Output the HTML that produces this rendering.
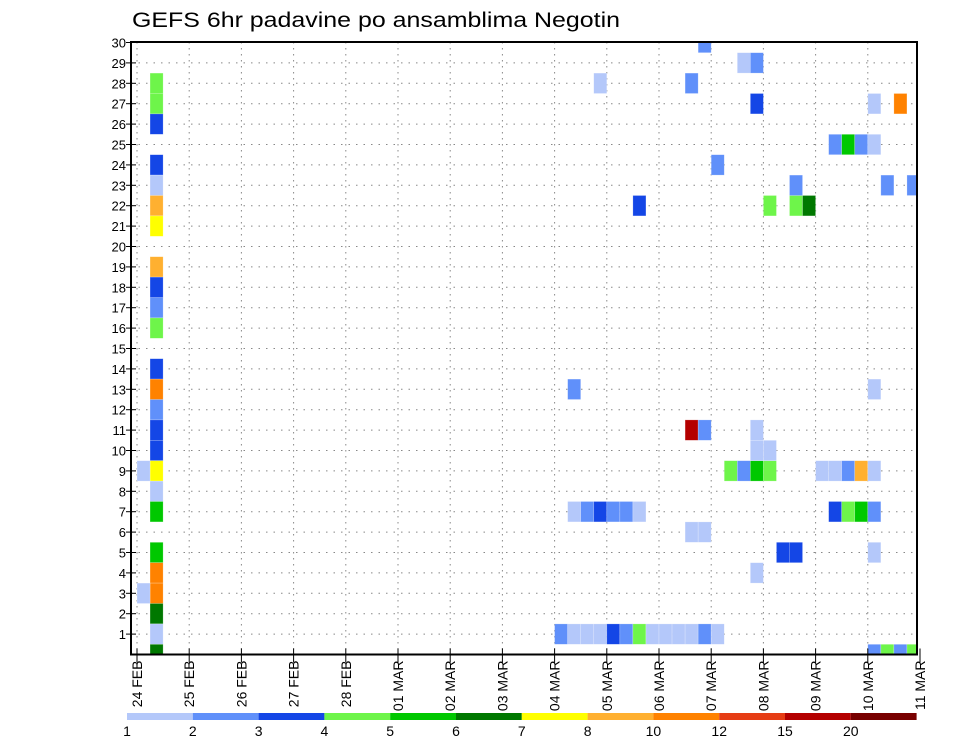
<!DOCTYPE html>
<html><head><meta charset="utf-8"><style>
html,body{margin:0;padding:0;background:#fff;}
svg{display:block;font-family:"Liberation Sans",sans-serif;}
</style></head><body>
<svg id="chart" width="960" height="742" viewBox="0 0 960 742" xmlns="http://www.w3.org/2000/svg">
<text x="132" y="27" font-size="21" textLength="488" lengthAdjust="spacingAndGlyphs" fill="#000">GEFS 6hr padavine po ansamblima Negotin</text>
<g id="grid"></g>
<g id="cells"></g>
<g id="axes"></g>
<g id="cbar"></g>
</svg>
<script>
// data
const dayLabels = ["24 FEB","25 FEB","26 FEB","27 FEB","28 FEB","01 MAR","02 MAR","03 MAR","04 MAR","05 MAR","06 MAR","07 MAR","08 MAR","09 MAR","10 MAR","11 MAR"];
const memberTicks = [1,2,3,4,5,6,7,8,9,10,11,12,13,14,15,16,17,18,19,20,21,22,23,24,25,26,27,28,29,30];
const levelLabels = ["1","2","3","4","5","6","7","8","10","12","15","20"];
const levelBounds = [1,2,3,4,5,6,7,8,10,12,15,20];
const levelColors = ["#b4c8fa","#6090fa","#1446e6","#6ef54a","#00c800","#007800","#ffff00","#ffb030","#ff8200","#e63c14","#b40000","#780000"];
// cells: 6h step index from 24 FEB 00Z, ensemble member, precip (mm)
const cellStep = [1,1,1,1,1,1,1,1,1,1,1,1,1,1,1,1,1,1,1,1,1,1,1,1,1,0,0,
 32,33,34,35,36,37,38,39,40,41,42,43,44,
 56,57,58,59, 56,49,50, 47, 42,43,
 33,34,35,36,37,38,53,54,55,56,
 45,46,47,48,52,53,54,55,56,
 47,48, 47,42,43, 33,56,
 38,48,50,51, 50,57,59, 44, 53,54,55,56, 47,56,58, 35,42, 46,47, 43];
const cellMember = [28,27,26,24,23,22,21,19,18,17,16,14,13,12,11,10,9,8,7,5,4,3,2,1,0,9,3,
 1,1,1,1,1,1,1,1,1,1,1,1,1,
 0,0,0,0, 5,5,5, 4, 6,6,
 7,7,7,7,7,7,7,7,7,7,
 9,9,9,9,9,9,9,9,9,
 10,10, 11,11,11, 13,13,
 22,22,22,22, 23,23,23, 24, 25,25,25,25, 27,27,27, 28,28, 29,29, 30];
const cellValue = [4.5,4.5,3.5,3.5,1.5,9,7.5,9,3.5,2.5,4.5,3.5,11,2.5,3.5,3.5,7.5,1.5,5.5,5.5,11,11,6.5,1.5,6.5,1.5,1.5,
 2.5,1.5,1.5,1.5,3.5,2.5,4.5,1.5,1.5,1.5,1.5,2.5,1.5,
 2.5,4.5,2.5,4.5, 1.5,3.5,3.5, 1.5, 1.5,1.5,
 1.5,2.5,3.5,2.5,2.5,1.5,3.5,4.5,5.5,2.5,
 4.5,2.5,5.5,4.5,1.5,1.5,2.5,9,1.5,
 1.5,1.5, 1.5,17,2.5, 2.5,1.5,
 3.5,4.5,4.5,6.5, 2.5,2.5,2.5, 2.5, 2.5,5.5,2.5,1.5, 3.5,1.5,11, 1.5,2.5, 1.5,2.5, 2.5];

const NS="http://www.w3.org/2000/svg";
const PL=131, PR=917, PT=42, PB=654.5;
const X0=137, DAY=52.2, STEP=DAY/4, ROW=20.4;
const xDay = d => X0 + d*DAY;
const xStep = t => X0 + t*STEP;
const yMem = m => PB - m*ROW;
function colorFor(v){let c=0;for(let i=0;i<levelBounds.length;i++){if(v>=levelBounds[i])c=i;}return levelColors[c];}
function mk(tag,attrs,parent){const e=document.createElementNS(NS,tag);for(const k in attrs)e.setAttribute(k,attrs[k]);parent.appendChild(e);return e;}

const grid=document.getElementById('grid');
memberTicks.forEach(m=>{
  const l=mk('line',{x1:PL,x2:PR,y1:yMem(m),y2:yMem(m),stroke:'#888','stroke-width':1,'stroke-dasharray':'1.5 6'},grid);
  
  
});
dayLabels.forEach((d,i)=>{
  const x=xDay(i); if(x>PR) return;
  const l=mk('line',{x1:x,x2:x,y1:PT,y2:PB,stroke:'#888','stroke-width':1,'stroke-dasharray':'1.5 4.5'},grid);
  
  
});

const cells=document.getElementById('cells');
for(let i=0;i<cellStep.length;i++){
  let x=xStep(cellStep[i]), w=STEP;
  if(x+w>PR) w=PR-x;
  let y=yMem(cellMember[i])-ROW/2, h=ROW;
  if(y<PT){h-=PT-y;y=PT;}
  if(y+h>PB) h=PB-y;
  const r=mk('rect',{x:x,y:y,width:w,height:h,fill:colorFor(cellValue[i]),stroke:'#fff','stroke-opacity':0.35,'stroke-width':0.6},cells);
  
  
}

const axes=document.getElementById('axes');
const fr=mk('rect',{x:PL,y:PT,width:PR-PL,height:PB-PT,fill:'none',stroke:'#000','stroke-width':2},axes);


memberTicks.forEach(m=>{
  const y=yMem(m);
  mk('line',{x1:PL-5,x2:PL+5,y1:y,y2:y,stroke:'#000','stroke-width':1},axes);
  const t=mk('text',{x:PL-5,y:y+5,'font-size':13,'text-anchor':'end',fill:'#000'},axes);
  t.textContent=m;
  
  
});
dayLabels.forEach((d,i)=>{
  const x=xDay(i);
  if(x<=PR+4) mk('line',{x1:x,x2:x,y1:PB-6,y2:PB+8,stroke:'#000','stroke-width':1},axes);
  const t=mk('text',{x:0,y:0,'font-size':14,'text-anchor':'end',fill:'#000',transform:`translate(${x+5},${PB+6}) rotate(-90)`},axes);
  t.textContent=d;
  
  
});

const cb=document.getElementById('cbar');
const CB0=127, CBW=65.8;
levelColors.forEach((c,i)=>{
  const r=mk('rect',{x:CB0+i*CBW,y:713,width:CBW,height:7,fill:c},cb);
  
  
});
levelLabels.forEach((s,i)=>{
  const t=mk('text',{x:CB0+i*CBW,y:736,'font-size':14,'text-anchor':'middle',fill:'#000'},cb);
  t.textContent=s;
  
  
});
</script>
</body></html>
